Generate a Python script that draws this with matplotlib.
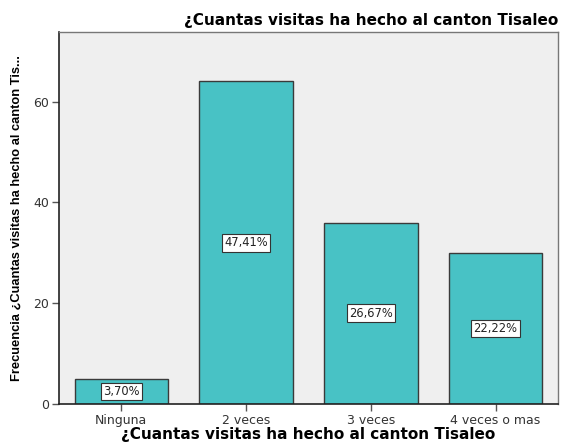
import matplotlib
matplotlib.use("Agg")
import matplotlib.pyplot as plt

categorias = ["Ninguna", "2 veces", "3 veces", "4 veces o mas"]
frecuencias = [5, 64, 36, 30]
porcentajes = ["3,70%", "47,41%", "26,67%", "22,22%"]
yticks = [0, 20, 40, 60]

plt.rcParams['font.family'] = ['DejaVu Sans']

fig = plt.figure(figsize=(5.72, 4.42), dpi=100)
ax = fig.add_axes([59 / 572, 1 - 404 / 442, 499 / 572, 372 / 442])
ax.set_facecolor('#efefef')

x = range(len(categorias))
ax.bar(x, frecuencias, width=0.75, color='#48c2c5', edgecolor='#3a3a3a', linewidth=1.0, zorder=2)

for i, (v, p) in enumerate(zip(frecuencias, porcentajes)):
    ax.text(i, v / 2, p, ha='center', va='center', fontsize=8.3, color='#222222', zorder=3,
            bbox=dict(boxstyle='square,pad=0.2', facecolor='white', edgecolor='#333333', linewidth=0.8))

ax.set_xlim(-0.5, 3.5)
ax.set_ylim(0, 73.8)
ax.set_xticks(list(x))
ax.set_xticklabels(categorias, fontsize=9, color='#333333')
ax.set_yticks(yticks)
ax.set_yticklabels([str(t) for t in yticks], fontsize=9, color='#333333')
ax.tick_params(axis='both', direction='out', length=5, width=1, color='#555555', pad=2)

for side in ['top', 'right']:
    ax.spines[side].set_color('#777777')
    ax.spines[side].set_linewidth(1)
for side in ['left', 'bottom']:
    ax.spines[side].set_color('#222222')
    ax.spines[side].set_linewidth(1.2)

ax.set_xlabel("¿Cuantas visitas ha hecho al canton Tisaleo", fontsize=11, fontweight='bold', labelpad=0)
ax.set_ylabel("Frecuencia ¿Cuantas visitas ha hecho al canton Tis...", fontsize=9.3, fontweight='bold',
              family=['Liberation Sans', 'DejaVu Sans'], labelpad=8)
ax.set_title("¿Cuantas visitas ha hecho al canton Tisaleo", fontsize=11, fontweight='bold',
             loc='right', pad=5)

fig.savefig("out.png", dpi=100)
